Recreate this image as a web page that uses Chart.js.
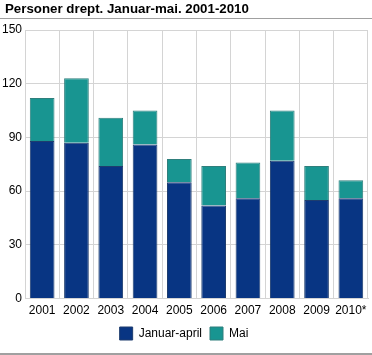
<!DOCTYPE html>
<html><head><meta charset="utf-8">
<script src="https://cdn.jsdelivr.net/npm/chart.js@4"></script>
<style>
html,body{margin:0;padding:0;background:#fff;}
#wrap{position:relative;width:372px;height:355px;}
canvas{position:absolute;left:0;top:0;}
</style></head>
<body><div id="wrap"><canvas id="c" width="372" height="355"></canvas></div>
<script>
const titleText = "Personer drept. Januar-mai. 2001-2010";
const categories = ["2001","2002","2003","2004","2005","2006","2007","2008","2009","2010*"];
const januarApril = [88,87,74,86,65,52,56,77,55,56];
const mai = [24,36,27,19,13,22,20,28,19,10];
const seriesNames = ["Januar-april","Mai"];
const yTicks = [0,30,60,90,120,150];

const decor = {
  id:'decor',
  afterDraw(chart){
    const ctx = chart.ctx;
    ctx.save();
    ctx.fillStyle = '#000';
    ctx.font = 'bold 13.3px "Liberation Sans", Arial, sans-serif';
    ctx.textBaseline = 'middle';
    ctx.textAlign = 'left';
    ctx.fillText(titleText, 5, 9);
    ctx.fillStyle = '#a0a0a0';
    ctx.fillRect(0, 18, 372, 1);
    ctx.fillRect(0, 353, 372, 2);
    ctx.restore();
  }
};

new Chart(document.getElementById('c'), {
  type:'bar',
  data:{
    labels: categories,
    datasets:[
      {label: seriesNames[0], data: januarApril, backgroundColor:'#083583', borderColor:'#1e3d6e', borderWidth:1},
      {label: seriesNames[1], data: mai, backgroundColor:'#189591', borderColor:'#2f7f7c', borderWidth:1}
    ]
  },
  options:{
    responsive:false, animation:false, devicePixelRatio:1,
    layout:{padding:{top:30,right:4,left:0,bottom:5}},
    plugins:{
      legend:{position:'bottom', labels:{boxWidth:13, boxHeight:13, color:'#000', font:{family:'"Liberation Sans", Arial, sans-serif', size:12}, padding:8}},
      tooltip:{enabled:false}
    },
    scales:{
      x:{stacked:true, barPercentage:0.7, categoryPercentage:1,
         afterFit(s){ s.height = 20.5; },
         grid:{color:'#d4d4d4', offset:true, drawTicks:false},
         border:{color:'#d4d4d4'},
         ticks:{color:'#000', padding:5, maxRotation:0, minRotation:0, autoSkip:false, font:{family:'"Liberation Sans", Arial, sans-serif', size:12}}},
      y:{stacked:true, min:0, max:150,
         afterBuildTicks(s){ s.ticks = yTicks.map(v=>({value:v})); },
         afterFit(s){ s.width = 25; },
         grid:{color:'#d4d4d4', drawTicks:false},
         border:{color:'#d4d4d4'},
         ticks:{color:'#000', padding:3, font:{family:'"Liberation Sans", Arial, sans-serif', size:12}}}
    }
  },
  plugins:[decor]
});
</script></body></html>
